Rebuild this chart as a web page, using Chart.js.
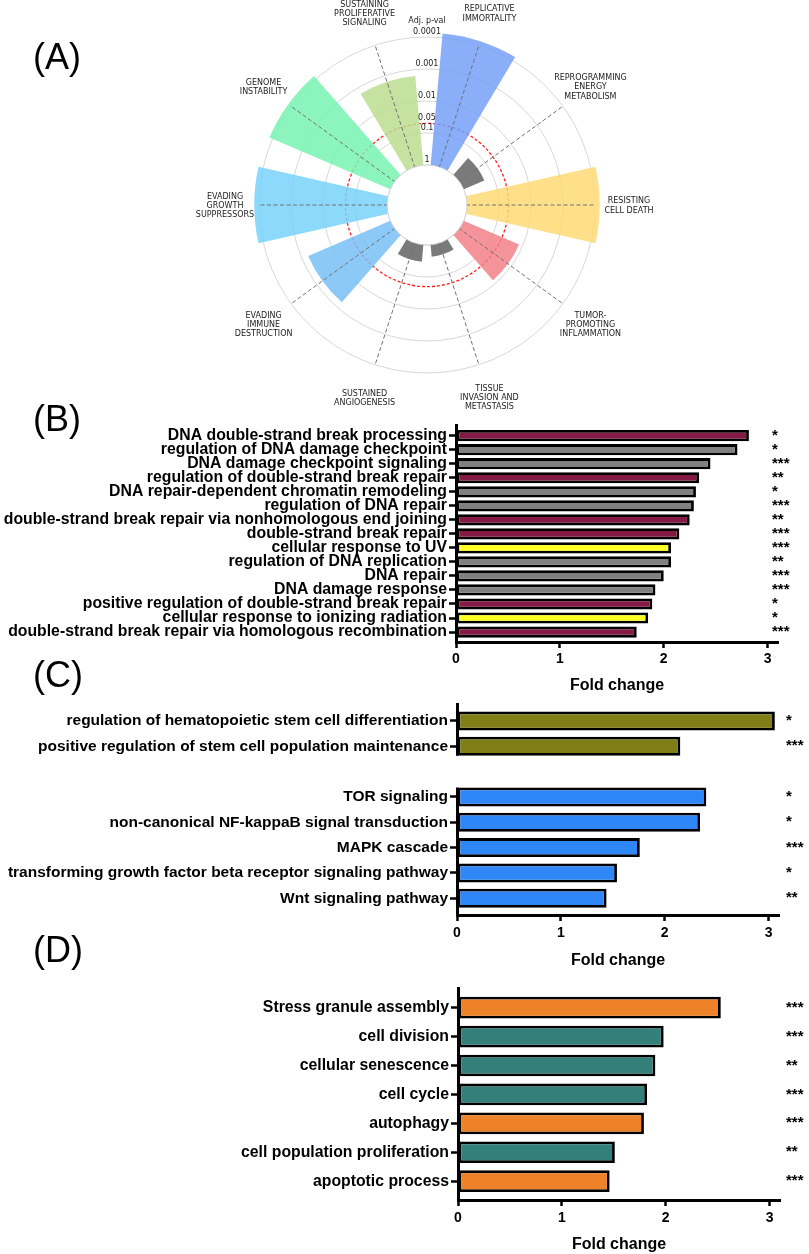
<!DOCTYPE html>
<html>
<head>
<meta charset="utf-8">
<script src="https://cdn.jsdelivr.net/npm/chart.js@4.4.1/dist/chart.umd.min.js"></script>
<style>
  html, body { margin: 0; padding: 0; background: #fff; }
  #page { position: relative; width: 809px; height: 1254px; overflow: hidden; }
  canvas { position: absolute; left: 0; }
  .tag { position: absolute; left: 33px; font: 36px/36px "Liberation Sans", Arial, sans-serif; color: #000; }
</style>
</head>
<body>
<div id="page">
  <canvas id="chartA" width="809" height="415" style="top:0"></canvas>
  <canvas id="chartB" width="809" height="280" style="top:415px"></canvas>
  <canvas id="chartC" width="809" height="270" style="top:700px"></canvas>
  <canvas id="chartD" width="809" height="279" style="top:975px"></canvas>
  <div class="tag" style="top:39px">(A)</div>
  <div class="tag" style="top:401px">(B)</div>
  <div class="tag" style="top:657px">(C)</div>
  <div class="tag" style="top:932px">(D)</div>
</div>
<script>
// ---- panel A: cancer hallmarks, -log10(adj. p) ----
const hallmarks = [
  ['REPLICATIVE', 'IMMORTALITY'],
  ['REPROGRAMMING', 'ENERGY', 'METABOLISM'],
  ['RESISTING', 'CELL DEATH'],
  ['TUMOR-', 'PROMOTING', 'INFLAMMATION'],
  ['TISSUE', 'INVASION AND', 'METASTASIS'],
  ['SUSTAINED', 'ANGIOGENESIS'],
  ['EVADING', 'IMMUNE', 'DESTRUCTION'],
  ['EVADING', 'GROWTH', 'SUPPRESSORS'],
  ['GENOME', 'INSTABILITY'],
  ['SUSTAINING', 'PROLIFERATIVE', 'SIGNALING']
];
const hallmarkNegLogP = [4.13, 0.70, 4.15, 1.88, 0.37, 0.53, 2.79, 4.15, 4.11, 2.80];
const pTickLabels = ['1', '0.1', '0.05', '0.01', '0.001', '0.0001'];

// ---- panel B ----
const bTerms = [
  'DNA double-strand break processing',
  'regulation of DNA damage checkpoint',
  'DNA damage checkpoint signaling',
  'regulation of double-strand break repair',
  'DNA repair-dependent chromatin remodeling',
  'regulation of DNA repair',
  'double-strand break repair via nonhomologous end joining',
  'double-strand break repair',
  'cellular response to UV',
  'regulation of DNA replication',
  'DNA repair',
  'DNA damage response',
  'positive regulation of double-strand break repair',
  'cellular response to ionizing radiation',
  'double-strand break repair via homologous recombination'
];
const bFold = [2.82, 2.71, 2.45, 2.34, 2.31, 2.29, 2.25, 2.15, 2.07, 2.07, 2.00, 1.92, 1.89, 1.85, 1.74];
const bStars = ['*', '*', '***', '**', '*', '***', '**', '***', '***', '**', '***', '***', '*', '*', '***'];

// ---- panel C (row 2 is an empty spacer row) ----
const cTerms = [
  'regulation of hematopoietic stem cell differentiation',
  'positive regulation of stem cell population maintenance',
  'TOR signaling',
  'non-canonical NF-kappaB signal transduction',
  'MAPK cascade',
  'transforming growth factor beta receptor signaling pathway',
  'Wnt signaling pathway'
];
const cRows = [0, 1, 3, 4, 5, 6, 7];
const cFold = [3.06, 2.15, 2.40, 2.34, 1.76, 1.54, 1.44];
const cStars = ['*', '***', '*', '*', '***', '*', '**'];

// ---- panel D ----
const dTerms = [
  'Stress granule assembly',
  'cell division',
  'cellular senescence',
  'cell cycle',
  'autophagy',
  'cell population proliferation',
  'apoptotic process'
];
const dFold = [2.53, 1.98, 1.90, 1.82, 1.79, 1.51, 1.46];
const dStars = ['***', '***', '**', '***', '***', '**', '***'];

// ---- styles ----
const MAROON = '#841a45', GRAY = '#808080', YELLOW = '#ffff26';
const OLIVE = '#807f17', BLUE = '#2f86f6';
const ORANGE = '#ee8228', TEAL = '#33807a';
const hallmarkColors = [
  'rgba(117,160,246,0.85)', 'rgba(99,99,99,0.85)', 'rgba(255,218,117,0.85)',
  'rgba(242,128,136,0.85)', 'rgba(99,99,99,0.85)', 'rgba(99,99,99,0.85)',
  'rgba(121,191,246,0.85)', 'rgba(120,210,250,0.85)', 'rgba(120,243,178,0.85)',
  'rgba(187,221,143,0.85)'
];
const bColors = [MAROON, GRAY, GRAY, MAROON, GRAY, GRAY, MAROON, MAROON, YELLOW, GRAY, GRAY, GRAY, MAROON, YELLOW, MAROON];
const cColors = [OLIVE, OLIVE, BLUE, BLUE, BLUE, BLUE, BLUE];
const dColors = [ORANGE, TEAL, TEAL, TEAL, ORANGE, TEAL, ORANGE];

Chart.defaults.font.family = '"Liberation Sans", Arial, sans-serif';
Chart.defaults.color = '#000';

// ---------------- polar (A) ----------------
const R_MIN = -1.25, R_MAX = 4;
const BAR_ANGLE = 25.6, GAP_ANGLE = 10.4;
const LABEL_LIFT = 0.16;
const pTickVals = pTickLabels.map(l => -Math.log10(parseFloat(l)));
const redVal = -Math.log10(0.05);
const isRed = c => c.tick && Math.abs(c.tick.value - redVal) < 1e-6;
const polarFont = '"DejaVu Sans", sans-serif';

const hallmarkText = {
  id: 'hallmarkText',
  afterDraw(chart) {
    const s = chart.scales.r2;
    const ctx = chart.ctx;
    ctx.save();
    // hole in the middle
    const hole = s.getDistanceFromCenterForValue(0);
    ctx.beginPath();
    ctx.arc(s.xCenter, s.yCenter, hole, 0, Math.PI * 2);
    ctx.fillStyle = '#fff';
    ctx.fill();
    ctx.strokeStyle = '#cfcfcf';
    ctx.lineWidth = 0.9;
    ctx.stroke();
    // category names
    ctx.font = '8px ' + polarFont;
    ctx.fillStyle = '#222';
    ctx.textAlign = 'center';
    ctx.textBaseline = 'middle';
    hallmarks.forEach((lines, k) => {
      const p = s.getPointPosition(2 * k + 1, 202);
      lines.forEach((ln, j) => ctx.fillText(ln, p.x, p.y + 1 + (j - (lines.length - 1) / 2) * 9.2));
    });
    ctx.restore();
  }
};

new Chart(document.getElementById('chartA'), {
  type: 'polarArea',
  data: {
    labels: hallmarks.flatMap(h => ['', h.join(' ')]),
    datasets: [{
      rAxisID: 'r',
      data: hallmarkNegLogP.flatMap(v => [v, R_MIN]),
      backgroundColor: hallmarkColors.flatMap(c => [c, 'rgba(0,0,0,0)']),
      borderWidth: 0,
      angle: c => (c.dataIndex % 2 ? GAP_ANGLE : BAR_ANGLE),
      clip: false
    }]
  },
  options: {
    responsive: false,
    animation: false,
    events: [],
    layout: { padding: { left: 253, top: 31, right: 208, bottom: 36 } },
    plugins: { legend: { display: false }, tooltip: { enabled: false } },
    scales: {
      r: {
        type: 'radialLinear',
        min: R_MIN, max: R_MAX,
        startAngle: 18 - BAR_ANGLE / 2,
        afterBuildTicks: s => { s.ticks = [R_MIN, ...pTickVals].map(value => ({ value })); },
        ticks: { display: true, color: 'rgba(0,0,0,0)', font: { size: 8 }, showLabelBackdrop: false },
        grid: {
          circular: true,
          color: c => (isRed(c) ? '#ff1f1f' : '#d2d2d2'),
          lineWidth: c => (isRed(c) ? 1.3 : 0.9)
        },
        border: { dash: c => (isRed(c) ? [3, 2] : []) },
        angleLines: { display: false },
        pointLabels: { display: false }
      },
      r2: {
        type: 'radialLinear',
        min: R_MIN, max: R_MAX,
        startAngle: 0,
        afterBuildTicks: s => {
          s.ticks = [R_MIN, ...pTickVals.map(v => v + LABEL_LIFT), 4.5].map(value => ({ value }));
        },
        ticks: {
          display: true, z: 1, color: '#222', showLabelBackdrop: false,
          font: { size: 8, family: polarFont },
          callback: (v, i) => ['', ...pTickLabels, 'Adj. p-val'][i]
        },
        grid: { display: false, z: 1 },
        angleLines: {
          display: true,
          color: c => (c.index % 2 ? '#707070' : 'rgba(0,0,0,0)'),
          lineWidth: 1,
          borderDash: [4, 2.5]
        },
        pointLabels: { display: false }
      }
    }
  },
  plugins: [hallmarkText]
});

// ---------------- horizontal bars (B, C, D) ----------------
// white-out of the y axis line over an empty row (Prism style gap)
const axisBreak = {
  id: 'axisBreak',
  afterDraw(chart, args, opts) {
    if (!opts.range) return;
    const y = chart.scales.y;
    const top = y.getPixelForValue(opts.range[0]);
    const bottom = y.getPixelForValue(opts.range[1]);
    chart.ctx.save();
    chart.ctx.fillStyle = '#fff';
    chart.ctx.fillRect(y.right - 3, top, 6, bottom - top);
    chart.ctx.restore();
  }
};

function barPanel(id, cfg) {
  const setTicks = s => { s.ticks = cfg.rows.map(value => ({ value })); };
  const label = arr => v => arr[cfg.rows.indexOf(v)];
  const noPad = s => { s.paddingTop = 0; s.paddingBottom = 0; s.paddingLeft = 0; s.paddingRight = 0; };
  // stars: left-aligned at cfg.starX (mirrored axis, so they are not clipped)
  const STAR_W = 17.5;
  return new Chart(document.getElementById(id), {
    type: 'bar',
    data: {
      datasets: [{
        data: cfg.values.map((v, i) => ({ x: v, y: cfg.rows[i] })),
        backgroundColor: cfg.colors,
        borderColor: '#000',
        borderWidth: 2.8,
        borderSkipped: false,
        barPercentage: cfg.barPct,
        categoryPercentage: 1
      }]
    },
    options: {
      indexAxis: 'y',
      responsive: false,
      animation: false,
      events: [],
      layout: { padding: { top: cfg.top, left: 0, right: 0, bottom: 0 } },
      plugins: { legend: { display: false }, tooltip: { enabled: false }, axisBreak: { range: cfg.gap } },
      scales: {
        x: {
          type: 'linear', min: 0, max: 3.1,
          afterFit: s => { s.height = cfg.xHeight; noPad(s); },
          ticks: { stepSize: 1, includeBounds: false, font: { size: 14, weight: 'bold' }, padding: cfg.xPad },
          grid: { drawOnChartArea: false, tickLength: 6, tickWidth: 2.5, tickColor: '#000' },
          border: { color: '#000', width: 3 },
          title: { display: true, text: 'Fold change', font: { size: 16, weight: 'bold' }, padding: 0 }
        },
        y: {
          type: 'linear', min: cfg.min, max: cfg.max, reverse: true, offset: false,
          afterBuildTicks: setTicks,
          afterFit: s => { s.width = cfg.left; noPad(s); },
          ticks: { autoSkip: false, font: { size: cfg.font, weight: 'bold' }, padding: 2, callback: label(cfg.terms) },
          grid: { offset: false, drawOnChartArea: false, tickLength: 7, tickWidth: 2.5, tickColor: '#000' },
          border: { color: '#000', width: 3 }
        },
        y2: {
          type: 'linear', position: 'right', min: cfg.min, max: cfg.max, reverse: true, offset: false,
          afterBuildTicks: setTicks,
          afterFit: s => { s.width = 809 - cfg.right; noPad(s); },
          ticks: {
            z: 1, autoSkip: false, font: { size: 15, weight: 'bold' }, mirror: true, crossAlign: 'far',
            padding: cfg.starX + STAR_W - cfg.right,
            callback: label(cfg.stars)
          },
          grid: { offset: false, display: false, drawTicks: false },
          border: { display: false }
        }
      }
    },
    plugins: [axisBreak]
  });
}

barPanel('chartB', {
  terms: bTerms, values: bFold, stars: bStars, colors: bColors,
  rows: bTerms.map((_, i) => i),
  min: -0.76, max: 14.71, top: 10, xHeight: 53, xPad: 3,
  left: 456, right: 778, starX: 772, barPct: 0.8, font: 15.8
});

barPanel('chartC', {
  terms: cTerms, values: cFold, stars: cStars, colors: cColors,
  rows: cRows, gap: [1.375, 2.625],
  min: -0.67, max: 7.66, top: 4, xHeight: 55, xPad: 4,
  left: 457, right: 779, starX: 786, barPct: 0.75, font: 15.5
});

barPanel('chartD', {
  terms: dTerms, values: dFold, stars: dStars, colors: dColors,
  rows: dTerms.map((_, i) => i),
  min: -0.68, max: 6.65, top: 13, xHeight: 54, xPad: 4,
  left: 458, right: 780, starX: 786, barPct: 0.75, font: 15.8
});
</script>
</body>
</html>
